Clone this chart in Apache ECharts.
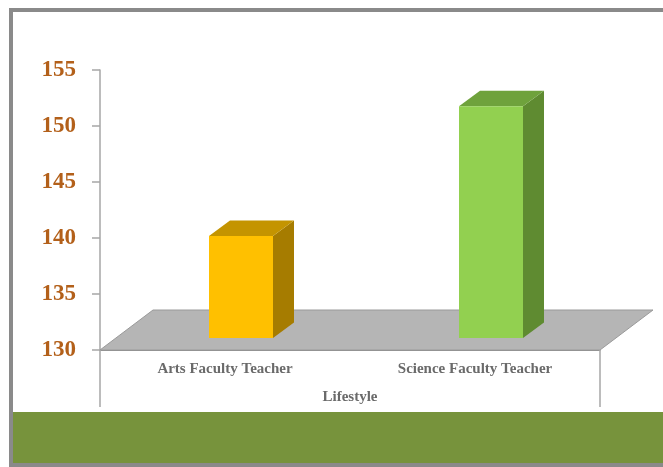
<!DOCTYPE html>
<html>
<head>
<meta charset="utf-8">
<script src="https://cdn.jsdelivr.net/npm/echarts@6/dist/echarts.min.js"></script>
<style>
  html, body { margin: 0; padding: 0; background: #ffffff; }
  #chart { width: 663px; height: 467px; }
</style>
</head>
<body>
<div id="chart"></div>
<script>
// Categories and mean values per group
const categories = ['Arts Faculty Teacher', 'Science Faculty Teacher'];
const values = [139.1, 150.7];
const axisTitle = 'Lifestyle';
const yTicks = [130, 135, 140, 145, 150, 155];

// Face colours for each column: front, side, top
const frontColors = ['#FFC000', '#92D050'];
const sideColors = ['#A67C00', '#5F8B31'];
const topColors = ['#C49400', '#6FA23C'];

// Oblique projection of the floor depth and of the column depth
const FLOOR_DX = 53, FLOOR_DY = -40;
const COL_SHIFT_X = 16, COL_SHIFT_Y = -12;   // column's front plane sits a bit back on the floor
const COL_DX = 21, COL_DY = -15.5;           // column thickness

const chart = echarts.init(document.getElementById('chart'), null, { renderer: 'canvas' });

const labelFont = {
  fontFamily: '"Liberation Serif", "Times New Roman", serif',
  fontWeight: 'bold'
};

function renderFloor(params, api) {
  const cs = params.coordSys;
  const x = cs.x, y = cs.y, w = cs.width, h = cs.height;
  const yb = y + h;
  return {
    type: 'group',
    children: [
      {
        type: 'polygon',
        shape: { points: [[x, yb], [x + w, yb], [x + w + FLOOR_DX, yb + FLOOR_DY], [x + FLOOR_DX, yb + FLOOR_DY]] },
        style: { fill: '#B5B5B5', stroke: '#9A9A9A', lineWidth: 1 }
      },
      {
        type: 'line',
        shape: { x1: x, y1: yb, x2: x, y2: yb + 57 },
        style: { stroke: '#A6A6A6', lineWidth: 1.5 }
      },
      {
        type: 'line',
        shape: { x1: x + w, y1: yb, x2: x + w, y2: yb + 57 },
        style: { stroke: '#A6A6A6', lineWidth: 1.5 }
      }
    ]
  };
}

function renderColumn(params, api) {
  const idx = params.dataIndex;
  const cat = api.value(0);
  const val = api.value(1);
  const top = api.coord([cat, val]);
  const base = api.coord([cat, yTicks[0]]);
  const band = api.size([1, 0])[0];
  const w = band * 0.256;
  const x0 = top[0] - w / 2 + COL_SHIFT_X;
  const x1 = x0 + w;
  const yt = top[1] + COL_SHIFT_Y;
  const yb = base[1] + COL_SHIFT_Y;
  return {
    type: 'group',
    children: [
      {
        type: 'polygon',
        shape: { points: [[x1, yb], [x1 + COL_DX, yb + COL_DY], [x1 + COL_DX, yt + COL_DY], [x1, yt]] },
        style: { fill: sideColors[idx] }
      },
      {
        type: 'polygon',
        shape: { points: [[x0, yt], [x1, yt], [x1 + COL_DX, yt + COL_DY], [x0 + COL_DX, yt + COL_DY]] },
        style: { fill: topColors[idx] }
      },
      {
        type: 'rect',
        shape: { x: x0, y: yt, width: w, height: yb - yt },
        style: { fill: frontColors[idx] }
      }
    ]
  };
}

chart.setOption({
  backgroundColor: '#ffffff',
  animation: false,
  grid: { left: 100, right: 63, top: 70, bottom: 117 },
  xAxis: {
    type: 'category',
    data: categories,
    axisLine: { show: true, lineStyle: { color: '#8C8C8C', width: 1 } },
    axisTick: { show: false },
    axisLabel: { ...labelFont, color: '#6A6A6A', fontSize: 15, margin: 12 },
    name: axisTitle,
    nameLocation: 'middle',
    nameGap: 40,
    nameTextStyle: { ...labelFont, color: '#6A6A6A', fontSize: 15 }
  },
  yAxis: {
    type: 'value',
    min: yTicks[0],
    max: yTicks[yTicks.length - 1],
    interval: yTicks[1] - yTicks[0],
    axisLine: { show: true, lineStyle: { color: '#A6A6A6', width: 1.5 } },
    axisTick: { show: true, length: 8, inside: false, lineStyle: { color: '#A6A6A6', width: 1.5 } },
    splitLine: { show: false },
    axisLabel: { ...labelFont, color: '#B3601A', fontSize: 23, margin: 24, padding: [4, 0, 0, 0] }
  },
  series: [
    {
      type: 'custom',
      renderItem: renderFloor,
      data: [[0, yTicks[0]]],
      z: 1,
      silent: true
    },
    {
      type: 'custom',
      renderItem: renderColumn,
      encode: { x: 0, y: 1 },
      data: categories.map((c, i) => [i, values[i]]),
      z: 2
    }
  ],
  graphic: [
    {
      type: 'rect',
      shape: { x: 13, y: 412, width: 660, height: 51 },
      style: { fill: '#77933C' },
      z: 0
    },
    {
      type: 'rect',
      shape: { x: 11, y: 10, width: 700, height: 455 },
      style: { fill: null, stroke: '#8A8A8A', lineWidth: 4 },
      z: 10
    }
  ]
});
</script>
</body>
</html>
